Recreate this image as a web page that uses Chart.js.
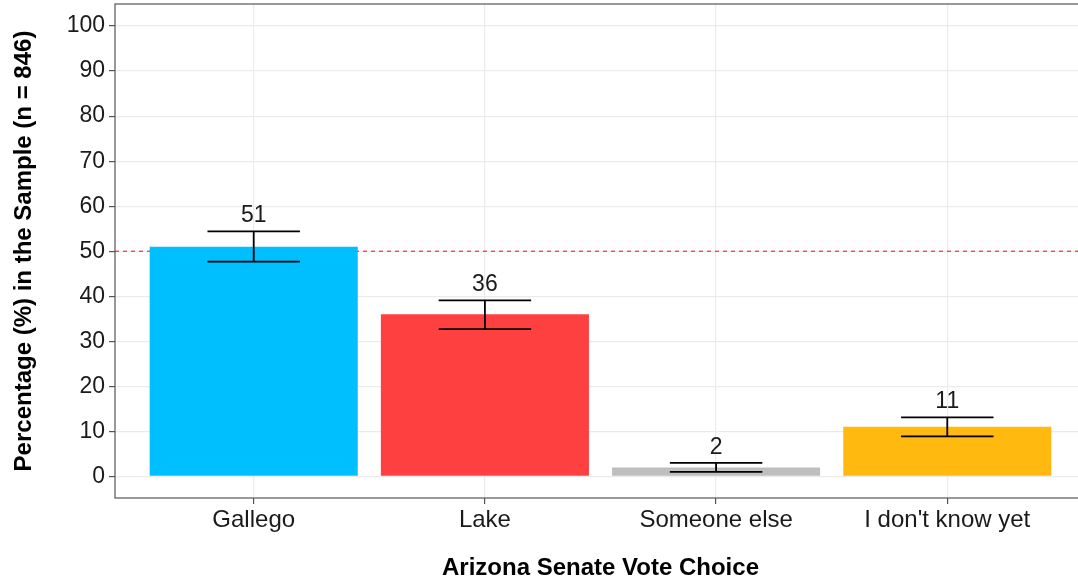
<!DOCTYPE html>
<html>
<head>
<meta charset="utf-8">
<script src="https://cdn.jsdelivr.net/npm/chart.js@4"></script>
<style>
  html, body { margin: 0; padding: 0; background: #fff; overflow: hidden; }
  /* the plot panel runs a little past the right edge of the picture */
  #wrap { width: 1086px; height: 583px; }
</style>
</head>
<body>
<div id="wrap"><canvas id="vote-choice"></canvas></div>
<script>
var categories = ['Gallego', 'Lake', 'Someone else', "I don't know yet"];
var percentages = [51, 36, 2, 11];
var lowerBounds = [47.7, 32.7, 1.0, 8.9];
var upperBounds = [54.4, 39.1, 3.0, 13.1];
var barColors = ['#00BFFF', '#FF4040', '#BEBEBE', '#FFB90F'];
var yTicks = [0, 10, 20, 30, 40, 50, 60, 70, 80, 90, 100];
var yMinorTicks = [5, 15, 25, 35, 45, 55, 65, 75, 85, 95];
var referenceLine = 50;

var font = 'Liberation Sans, Arial, Helvetica, sans-serif';

// red dashed line at 50% and the grey panel frame
var panelPlugin = {
    id: 'panel',
    beforeDatasetsDraw: function(chart) {
        var ctx = chart.ctx, area = chart.chartArea;
        var y = chart.scales.y.getPixelForValue(referenceLine);
        ctx.save();
        ctx.strokeStyle = 'rgba(255, 20, 20, 0.9)';
        ctx.lineWidth = 1.2;
        ctx.setLineDash([4, 4]);
        ctx.beginPath();
        ctx.moveTo(area.left, y);
        ctx.lineTo(area.right, y);
        ctx.stroke();
        ctx.restore();
    },
    afterDraw: function(chart) {
        var ctx = chart.ctx, area = chart.chartArea;
        ctx.save();
        ctx.strokeStyle = '#555555';
        ctx.lineWidth = 1.2;
        ctx.strokeRect(area.left, area.top, area.right - area.left, area.bottom - area.top);
        ctx.restore();
    }
};

// error bars and value labels
var errorBarPlugin = {
    id: 'errorBars',
    afterDatasetsDraw: function(chart) {
        var ctx = chart.ctx;
        var xs = chart.scales.x, ys = chart.scales.y;
        var half = xs.getPixelForValue(1.2) - xs.getPixelForValue(1);
        ctx.save();
        ctx.strokeStyle = '#000';
        ctx.lineWidth = 1.8;
        ctx.fillStyle = '#1a1a1a';
        ctx.font = '23px ' + font;
        ctx.textAlign = 'center';
        ctx.textBaseline = 'bottom';
        categories.forEach(function(c, i) {
            var x = xs.getPixelForValue(i + 1);
            var lo = ys.getPixelForValue(lowerBounds[i]);
            var hi = ys.getPixelForValue(upperBounds[i]);
            ctx.beginPath();
            ctx.moveTo(x - half, hi); ctx.lineTo(x + half, hi);
            ctx.moveTo(x - half, lo); ctx.lineTo(x + half, lo);
            ctx.moveTo(x, hi); ctx.lineTo(x, lo);
            ctx.stroke();
            ctx.fillText(String(percentages[i]), x, hi - 4);
        });
        ctx.restore();
    }
};

new Chart(document.getElementById('vote-choice'), {
    type: 'bar',
    data: {
        datasets: [{
            data: categories.map(function(c, i) { return {x: i + 1, y: percentages[i]}; }),
            backgroundColor: barColors,
            borderWidth: 0,
            barPercentage: 0.9,
            categoryPercentage: 1.0
        }]
    },
    options: {
        responsive: true,
        maintainAspectRatio: false,
        animation: false,
        layout: { padding: { top: 4, right: 0, left: 0, bottom: 0 } },
        plugins: { legend: { display: false }, tooltip: { enabled: false } },
        scales: {
            x: {
                type: 'linear',
                offset: false,
                min: 0.4,
                max: 4.6,
                afterBuildTicks: function(scale) {
                    scale.ticks = categories.map(function(c, i) { return {value: i + 1}; });
                },
                afterFit: function(scale) {
                    scale.height = 85;
                    scale.paddingLeft = 0;
                    scale.paddingRight = 0;
                },
                grid: { offset: false, color: '#EBEBEB', lineWidth: 1.2, tickLength: 6, tickColor: '#555555' },
                border: { display: false },
                ticks: {
                    color: '#1a1a1a',
                    font: { family: font, size: 24 },
                    padding: 2,
                    maxRotation: 0,
                    callback: function(v) { return categories[v - 1]; }
                },
                title: {
                    display: true,
                    text: 'Arizona Senate Vote Choice',
                    color: '#000',
                    font: { family: font, size: 24, weight: 'bold' },
                    padding: { top: 0, bottom: 0 }
                }
            },
            y: {
                min: -4.8,
                max: 104.9,
                afterBuildTicks: function(scale) {
                    scale.ticks = yTicks.concat(yMinorTicks).sort(function(a, b) { return a - b; })
                        .map(function(v) { return {value: v}; });
                },
                afterFit: function(scale) {
                    scale.width = 115;
                    scale.paddingTop = 0;
                    scale.paddingBottom = 0;
                },
                grid: {
                    color: function(c) { return c.tick && c.tick.value % 10 === 0 ? '#EBEBEB' : '#F4F4F4'; },
                    lineWidth: function(c) { return c.tick && c.tick.value % 10 === 0 ? 1.2 : 0.8; },
                    tickColor: function(c) { return c.tick && c.tick.value % 10 === 0 ? '#555555' : 'rgba(0,0,0,0)'; },
                    tickLength: 6
                },
                border: { display: false },
                ticks: {
                    color: '#1a1a1a',
                    font: { family: font, size: 23 },
                    padding: 4,
                    callback: function(v) { return yTicks.indexOf(v) >= 0 ? String(v) : ''; }
                },
                title: {
                    display: true,
                    text: 'Percentage (%) in the Sample (n = 846)',
                    color: '#000',
                    font: { family: font, size: 24, weight: 'bold' },
                    padding: { top: 10, bottom: 0 }
                }
            }
        }
    },
    plugins: [panelPlugin, errorBarPlugin]
});
</script>
</body>
</html>
